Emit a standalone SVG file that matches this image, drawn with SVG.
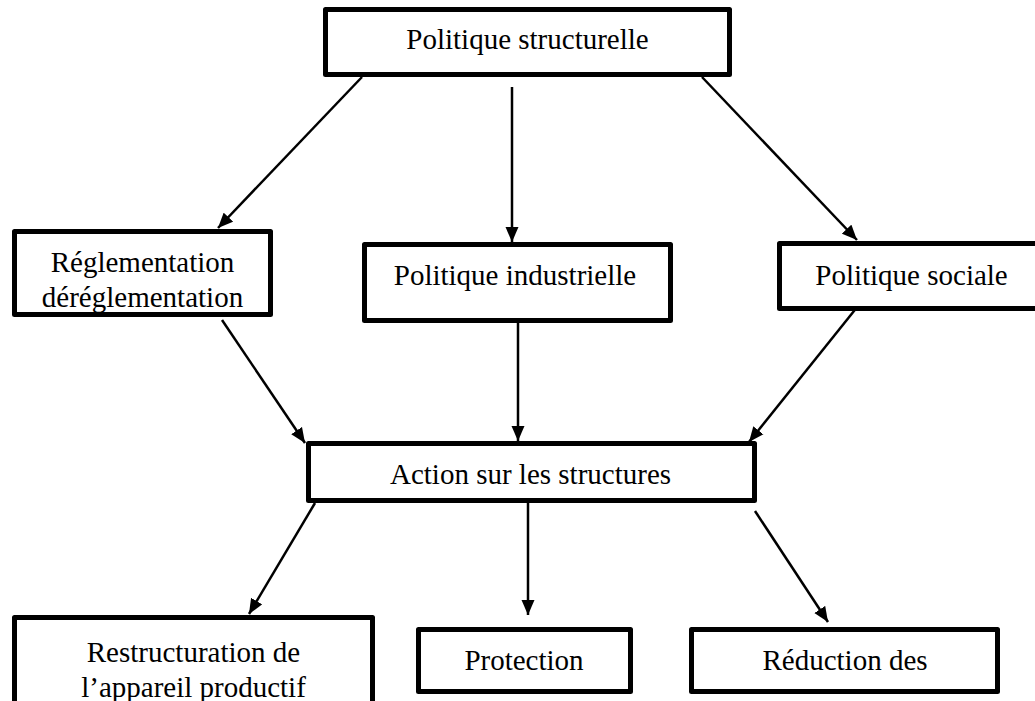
<svg xmlns="http://www.w3.org/2000/svg" width="1035" height="701" viewBox="0 0 1035 701">
  <style>
    .box { fill: #ffffff; stroke: #000000; stroke-width: 5; stroke-linejoin: round; }
    .lbl { font-family: "Liberation Serif", "Times New Roman", serif; font-size: 29px; fill: #000000; text-anchor: middle; }
    .conn { stroke: #000000; stroke-width: 2.5; fill: none; marker-end: url(#arrow); }
  </style>
  <defs>
    <marker id="arrow" markerUnits="userSpaceOnUse" markerWidth="16" markerHeight="14" refX="15" refY="7" orient="auto">
      <path d="M0,0.5 L15,7 L0,13.5 z" fill="#000000"/>
    </marker>
  </defs>
  <rect width="1035" height="701" fill="#ffffff"/>

  <g id="connectors">
    <line class="conn" x1="362" y1="77" x2="218" y2="228"/>
    <line class="conn" x1="512" y1="87" x2="512" y2="242"/>
    <line class="conn" x1="702" y1="77" x2="857" y2="240"/>
    <line class="conn" x1="222" y1="320" x2="305" y2="443"/>
    <line class="conn" x1="518" y1="323" x2="518" y2="441"/>
    <line class="conn" x1="858" y1="306" x2="749" y2="442"/>
    <line class="conn" x1="315" y1="503" x2="249" y2="614"/>
    <line class="conn" x1="528" y1="503" x2="528" y2="615"/>
    <line class="conn" x1="755" y1="511" x2="828" y2="622"/>
  </g>

  <g id="node-politique-structurelle">
    <rect class="box" x="325.5" y="9.5" width="404" height="65"/>
    <text class="lbl" x="527.5" y="49">Politique structurelle</text>
  </g>
  <g id="node-reglementation">
    <rect class="box" x="14.5" y="231.5" width="256" height="83"/>
    <text class="lbl" x="142.5" y="272">Réglementation</text>
    <text class="lbl" x="142.5" y="307">déréglementation</text>
  </g>
  <g id="node-politique-industrielle">
    <rect class="box" x="364.5" y="244.5" width="306" height="76"/>
    <text class="lbl" x="515" y="285">Politique industrielle</text>
  </g>
  <g id="node-politique-sociale">
    <rect class="box" x="779.5" y="243.5" width="266" height="65"/>
    <text class="lbl" x="911.5" y="285">Politique sociale</text>
  </g>
  <g id="node-action">
    <rect class="box" x="308.5" y="443.5" width="446" height="57"/>
    <text class="lbl" x="530.5" y="484">Action sur les structures</text>
  </g>
  <g id="node-restructuration">
    <rect class="box" x="14.5" y="617.5" width="358" height="100"/>
    <text class="lbl" x="193.5" y="662">Restructuration de</text>
    <text class="lbl" x="193.5" y="697">l’appareil productif</text>
  </g>
  <g id="node-protection">
    <rect class="box" x="418.5" y="629.5" width="212" height="62"/>
    <text class="lbl" x="524" y="670">Protection</text>
  </g>
  <g id="node-reduction">
    <rect class="box" x="691.5" y="629.5" width="306" height="62"/>
    <text class="lbl" x="845" y="670">Réduction des</text>
  </g>
</svg>
